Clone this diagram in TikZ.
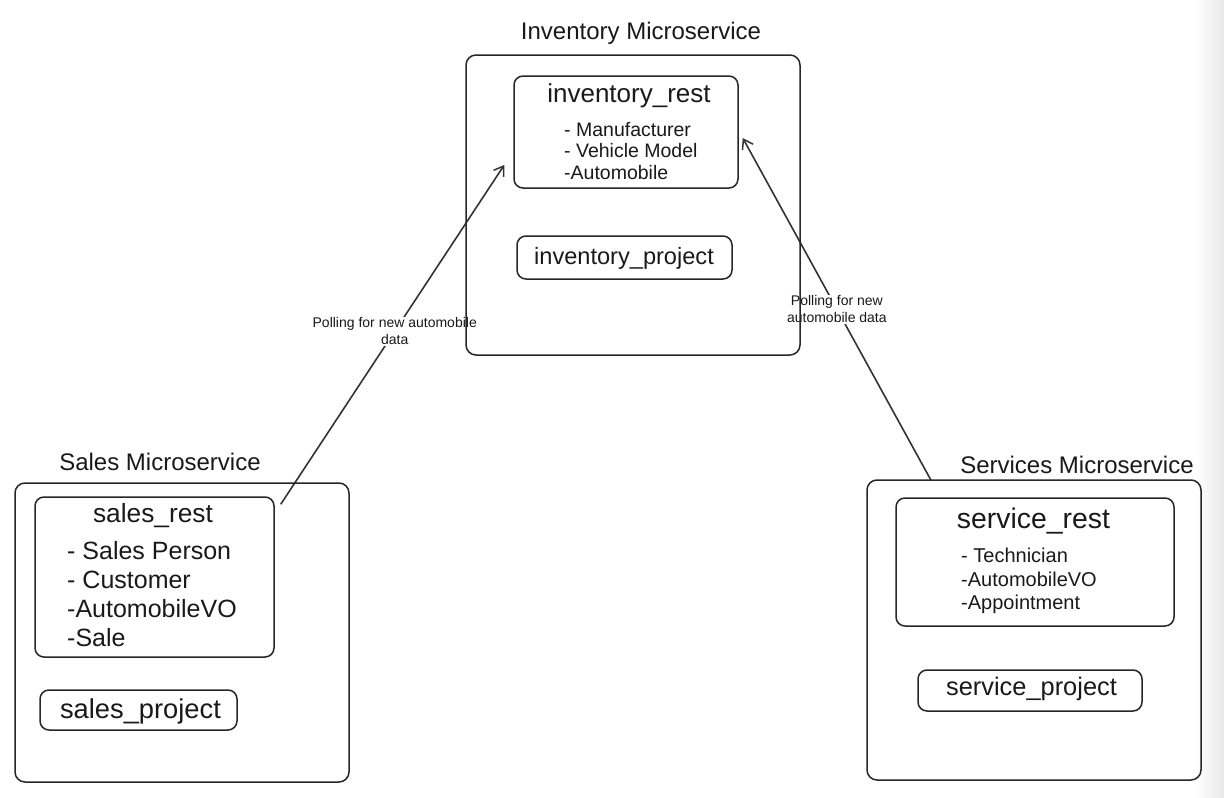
\documentclass[tikz,border=0pt]{standalone}
\usepackage{fontspec}
\setmainfont{Liberation Sans}
\usetikzlibrary{arrows.meta,positioning,calc}
\pgfdeclarelayer{background}
\pgfsetlayers{background,main}
\tikzset{
  outerbox/.style={draw=black!85, line width=1.5pt, rounded corners=10pt, inner sep=0pt},
  innerbox/.style={draw=black!85, line width=1.5pt, rounded corners=9pt, inner sep=0pt},
  sectitle/.style={font=\fontsize{24}{28}\selectfont, inner sep=0pt, text=black!90},
  boxtitle/.style={font=\fontsize{26.5}{30}\selectfont, inner sep=0pt, text=black!90},
  itemlist/.style={align=left, inner sep=0pt, anchor=west, text=black!90},
  polling/.style={draw=black!80, line width=1.6pt, -{Straight Barb[length=9pt,width=12pt,line width=1.5pt]}},
  polllabel/.style={font=\fontsize{14}{16.5}\selectfont, fill=white, inner sep=1pt, align=center, text=black!90}
}
\begin{document}
\begin{tikzpicture}[x=1pt,y=-1pt]
\useasboundingbox (0,0) rectangle (1224,798);
\shade[left color=white, right color=black!9] (1196,0) rectangle (1224,798);

% Inventory
\node[sectitle] (invtitle) at (641,33) {Inventory Microservice};
\node[outerbox, minimum width=334pt, minimum height=300pt] (inv) at (633,205) {};
\node[innerbox, minimum width=224pt, minimum height=112pt] (invrest) at (626,132) {};
\node[boxtitle, font=\fontsize{26}{30}\selectfont] (invresttitle) at (629,96) {inventory\_rest};
\node[itemlist, font=\fontsize{19.5}{21.5}\selectfont] (invitems) at (564,151) {- Manufacturer\\- Vehicle Model\\-Automobile};
\node[innerbox, minimum width=215pt, minimum height=43pt] (invproj) at (624.5,257.5) {};
\node[boxtitle, font=\fontsize{23.6}{28}\selectfont] (invprojtext) at (624,258) {inventory\_project};

% Sales
\node[sectitle] (salestitle) at (160,462) {Sales Microservice};
\node[outerbox, minimum width=334pt, minimum height=299pt] (sales) at (182,632.5) {};
\node[innerbox, minimum width=239pt, minimum height=160pt] (salesrest) at (154.5,577) {};
\node[boxtitle, font=\fontsize{26.3}{30}\selectfont] (salesresttitle) at (153,516) {sales\_rest};
\node[itemlist, font=\fontsize{25}{29}\selectfont] (salesitems) at (67,594) {- Sales Person\\- Customer\\-AutomobileVO\\-Sale};
\node[innerbox, minimum width=197pt, minimum height=40pt] (salesproj) at (138.5,710) {};
\node[boxtitle, font=\fontsize{27.3}{30}\selectfont] (salesprojtext) at (140.5,711) {sales\_project};

% Services
\node[sectitle] (servtitle) at (1077,465) {Services Microservice};
\node[outerbox, minimum width=334pt, minimum height=300pt] (serv) at (1034,630) {};
\node[innerbox, minimum width=278pt, minimum height=128pt] (servrest) at (1035,562) {};
\node[boxtitle, font=\fontsize{28.4}{32}\selectfont] (servresttitle) at (1033.5,521) {service\_rest};
\node[itemlist, font=\fontsize{20}{23.5}\selectfont] (servitems) at (961,581) {- Technician\\-AutomobileVO\\-Appointment};
\node[innerbox, minimum width=224pt, minimum height=41pt] (servproj) at (1030,690.5) {};
\node[boxtitle, font=\fontsize{25.4}{30}\selectfont] (servprojtext) at (1031.5,689) {service\_project};

% Connector end points
\coordinate (salesout) at ($(salesrest.north east)+(6,8)$);
\coordinate (invin1) at ($(invrest.west)+(-9,33)$);
\coordinate (servout) at ($(serv.north)+(-103,1)$);
\coordinate (invin2) at ($(invrest.east)+(4,6)$);

\begin{pgfonlayer}{background}
\draw[polling] (salesout) -- node[polllabel, pos=0.51] (lbl1) {Polling for new automobile\\data} (invin1);
\draw[polling] (servout) -- node[polllabel, pos=0.5] (lbl2) {Polling for new\\automobile data} (invin2);
\end{pgfonlayer}
\end{tikzpicture}
\end{document}
